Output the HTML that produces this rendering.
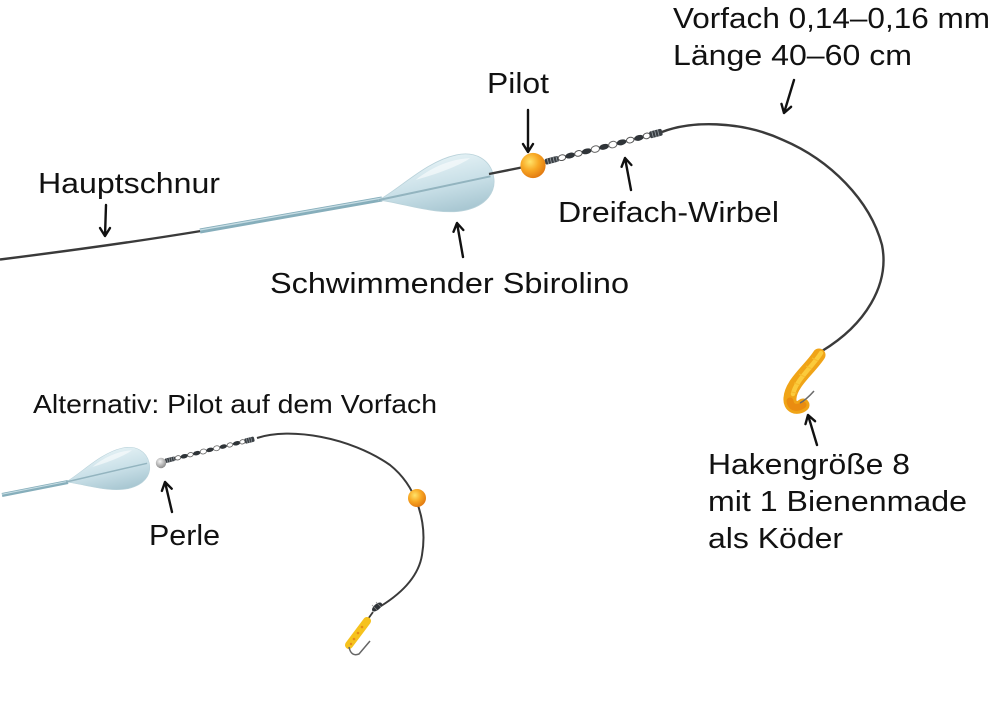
<!DOCTYPE html>
<html>
<head>
<meta charset="utf-8">
<style>
  html,body{margin:0;padding:0;background:#fff;}
  svg{display:block;}
  text{font-family:"Liberation Sans",Arial,sans-serif;fill:#111;}
</style>
</head>
<body>
<svg width="1000" height="704" viewBox="0 0 1000 704" xmlns="http://www.w3.org/2000/svg">
<defs>
  <linearGradient id="bodyG" x1="0" y1="0" x2="0" y2="1">
    <stop offset="0" stop-color="#e2f0f4"/>
    <stop offset="0.5" stop-color="#c8dfe7"/>
    <stop offset="1" stop-color="#a7c6d1"/>
  </linearGradient>
  <radialGradient id="ballG" cx="0.38" cy="0.35" r="0.7">
    <stop offset="0" stop-color="#ffe36a"/>
    <stop offset="0.5" stop-color="#f8a824"/>
    <stop offset="1" stop-color="#e0760f"/>
  </radialGradient>
  <radialGradient id="beadG" cx="0.4" cy="0.35" r="0.7">
    <stop offset="0" stop-color="#f4f4f4"/>
    <stop offset="1" stop-color="#858585"/>
  </radialGradient>
  <g id="swivel">
    <!-- coil start -->
    <rect x="0" y="-3" width="14" height="6" rx="2" fill="#3a3f44"/>
    <path d="M3,-3 V3 M6,-3 V3 M9,-3 V3 M12,-3 V3" stroke="#9aa3a8" stroke-width="0.8"/>
    <ellipse cx="17.5" cy="0" rx="3.8" ry="2.8" fill="#fff" stroke="#555" stroke-width="1"/>
    <ellipse cx="26" cy="0" rx="5" ry="2.8" fill="#2f3438"/>
    <ellipse cx="34.5" cy="0" rx="3.8" ry="2.8" fill="#fff" stroke="#555" stroke-width="1"/>
    <ellipse cx="43" cy="0" rx="5" ry="2.8" fill="#2f3438"/>
    <ellipse cx="52" cy="0" rx="4.2" ry="3.2" fill="#fff" stroke="#666" stroke-width="1"/>
    <ellipse cx="61" cy="0" rx="5" ry="2.8" fill="#2f3438"/>
    <ellipse cx="70" cy="0" rx="4.2" ry="3.2" fill="#fff" stroke="#666" stroke-width="1"/>
    <ellipse cx="79" cy="0" rx="5" ry="2.8" fill="#2f3438"/>
    <ellipse cx="88" cy="0" rx="3.8" ry="2.8" fill="#fff" stroke="#555" stroke-width="1"/>
    <ellipse cx="97" cy="0" rx="5" ry="2.8" fill="#2f3438"/>
    <ellipse cx="105" cy="0" rx="3.5" ry="2.8" fill="#fff" stroke="#555" stroke-width="1"/>
    <rect x="108" y="-3.5" width="13" height="7" rx="2" fill="#3a3f44"/>
    <path d="M111,-3.5 V3.5 M114,-3.5 V3.5 M117,-3.5 V3.5" stroke="#9aa3a8" stroke-width="0.8"/>
  </g>
  <g id="sbiro">
    <path d="M0,0 C25,-8 55,-28 85,-28 C105,-28 117,-16 117,0 C117,17 103,28 82,28 C55,28 25,9 0,0 Z" fill="url(#bodyG)" stroke="#b9d2da" stroke-width="0.8"/>
    <path d="M40,-12 C60,-22 80,-25 98,-22 C88,-18 70,-14 40,-12 Z" fill="#ffffff" opacity="0.55"/>
    <line x1="0" y1="0" x2="114" y2="0" stroke="#86aab6" stroke-width="2" opacity="0.8"/>
  </g>
</defs>

<!-- ===== MAIN RIG ===== -->
<!-- Hauptschnur -->
<path d="M0,259.5 C60,252 140,241 201,231" stroke="#3a3a3a" stroke-width="2.4" fill="none"/>
<!-- tube -->
<path d="M200,231 L382,199" stroke="#86aebb" stroke-width="5" fill="none"/>
<path d="M200,230 L382,198" stroke="#c7dde4" stroke-width="1.3" fill="none"/>
<!-- sbirolino body -->
<use href="#sbiro" transform="translate(379,200) rotate(-12)"/>
<!-- line body->ball -->
<path d="M489,174 L534,165" stroke="#3a3a3a" stroke-width="2.4" fill="none"/>
<!-- swivel -->
<use href="#swivel" transform="translate(545,162) rotate(-14.4)"/>
<!-- pilot ball -->
<circle cx="533" cy="165.5" r="12.6" fill="url(#ballG)"/>
<!-- Vorfach -->
<path d="M662,132 C690,121 740,120 783,140 C830,160 870,200 882,245 C890,285 865,325 822,351" stroke="#3a3a3a" stroke-width="2.4" fill="none"/>
<!-- maggot main -->
<path d="M819,355 C810,369 791,383 790,398 C789,407 797,410 803,405" stroke="#f0a417" stroke-width="13" stroke-linecap="round" fill="none"/>
<path d="M821,353 C813,366 796,380 793,394" stroke="#fccf40" stroke-width="4.5" stroke-linecap="round" fill="none" opacity="0.9"/>
<path d="M790,401 C791,408 797,409 803,405" stroke="#e8860f" stroke-width="7" stroke-linecap="round" fill="none" opacity="0.8"/>
<path d="M812,358 l6,3 M806,366 l6,3 M799,374 l6,3 M794,383 l6,2 M791,392 l6,1" stroke="#f7bb2c" stroke-width="1" fill="none"/>
<path d="M800,403 Q806,400 814,391" stroke="#6a6a6a" stroke-width="1.5" fill="none"/>

<!-- ===== ALTERNATIVE RIG ===== -->
<path d="M2,495 L68,482" stroke="#86aebb" stroke-width="4" fill="none"/>
<path d="M2,494.3 L68,481.3" stroke="#c7dde4" stroke-width="1" fill="none"/>
<use href="#sbiro" transform="translate(66,482) rotate(-13) scale(0.73)"/>
<use href="#swivel" transform="translate(165,461) rotate(-13.9) scale(0.76)"/>
<circle cx="161" cy="463" r="5.2" fill="url(#beadG)"/>
<path d="M257,438 C290,427 350,437 390,465 C415,485 428,520 422,555 C418,580 395,598 376,609" stroke="#3a3a3a" stroke-width="2" fill="none"/>
<circle cx="417" cy="498" r="9" fill="url(#ballG)"/>
<!-- knot -->
<ellipse cx="377" cy="607" rx="6" ry="3" transform="rotate(-40 377 607)" fill="#2f3438"/>
<path d="M372,605 l5,5 M376,602 l5,5" stroke="#888" stroke-width="0.7"/>
<path d="M373,612 L368,619" stroke="#3a3a3a" stroke-width="1.8"/>
<!-- small maggot -->
<path d="M367,621 L349,645" stroke="#f6c21d" stroke-width="8" stroke-linecap="round" fill="none"/>
<circle cx="362" cy="627" r="1.3" fill="#e58c16"/>
<circle cx="358" cy="633" r="1.3" fill="#e58c16"/>
<circle cx="354" cy="639" r="1.3" fill="#e58c16"/>
<circle cx="351" cy="644" r="1.2" fill="#e58c16"/>
<path d="M349,647 Q351,657 359,654 L370,641" stroke="#666" stroke-width="1.5" fill="none"/>

<!-- ===== ARROWS ===== -->
<g stroke="#111" stroke-width="2.4" fill="none" stroke-linecap="round" stroke-linejoin="round">
  <path d="M794,80 L784,113 M791.1,106.8 L784,113 L781.5,103.9"/>
  <path d="M528,110 L528,152 M533,144 L528,152 L523,144"/>
  <path d="M106,205 L105,236 M110,228 L105,236 L100,228"/>
  <path d="M631,190 L625,158 M631.4,165 L625,158 L621.6,166.8"/>
  <path d="M463,257 L457,223 M463.3,230 L457,223 L453.5,231.8"/>
  <path d="M817,445 L808,415 M815.1,421.2 L808,415 L805.5,424.1"/>
  <path d="M172,512 L165,482 M171.7,488.7 L165,482 L161.9,490.9"/>
</g>

<!-- ===== LABELS ===== -->
<text x="673" y="28" font-size="29" textLength="317" lengthAdjust="spacingAndGlyphs">Vorfach 0,14–0,16 mm</text>
<text x="673" y="65" font-size="29" textLength="239" lengthAdjust="spacingAndGlyphs">Länge 40–60 cm</text>
<text x="487" y="93" font-size="29" textLength="62" lengthAdjust="spacingAndGlyphs">Pilot</text>
<text x="38" y="193" font-size="29" textLength="182" lengthAdjust="spacingAndGlyphs">Hauptschnur</text>
<text x="558" y="222" font-size="29" textLength="221" lengthAdjust="spacingAndGlyphs">Dreifach-Wirbel</text>
<text x="270" y="293" font-size="29" textLength="359" lengthAdjust="spacingAndGlyphs">Schwimmender Sbirolino</text>
<text x="33" y="413" font-size="26" textLength="404" lengthAdjust="spacingAndGlyphs">Alternativ: Pilot auf dem Vorfach</text>
<text x="149" y="545" font-size="29" textLength="71" lengthAdjust="spacingAndGlyphs">Perle</text>
<text x="708" y="474" font-size="29" textLength="202" lengthAdjust="spacingAndGlyphs">Hakengröße 8</text>
<text x="708" y="511" font-size="29" textLength="259" lengthAdjust="spacingAndGlyphs">mit 1 Bienenmade</text>
<text x="708" y="548" font-size="29" textLength="135" lengthAdjust="spacingAndGlyphs">als Köder</text>
</svg>
</body>
</html>
